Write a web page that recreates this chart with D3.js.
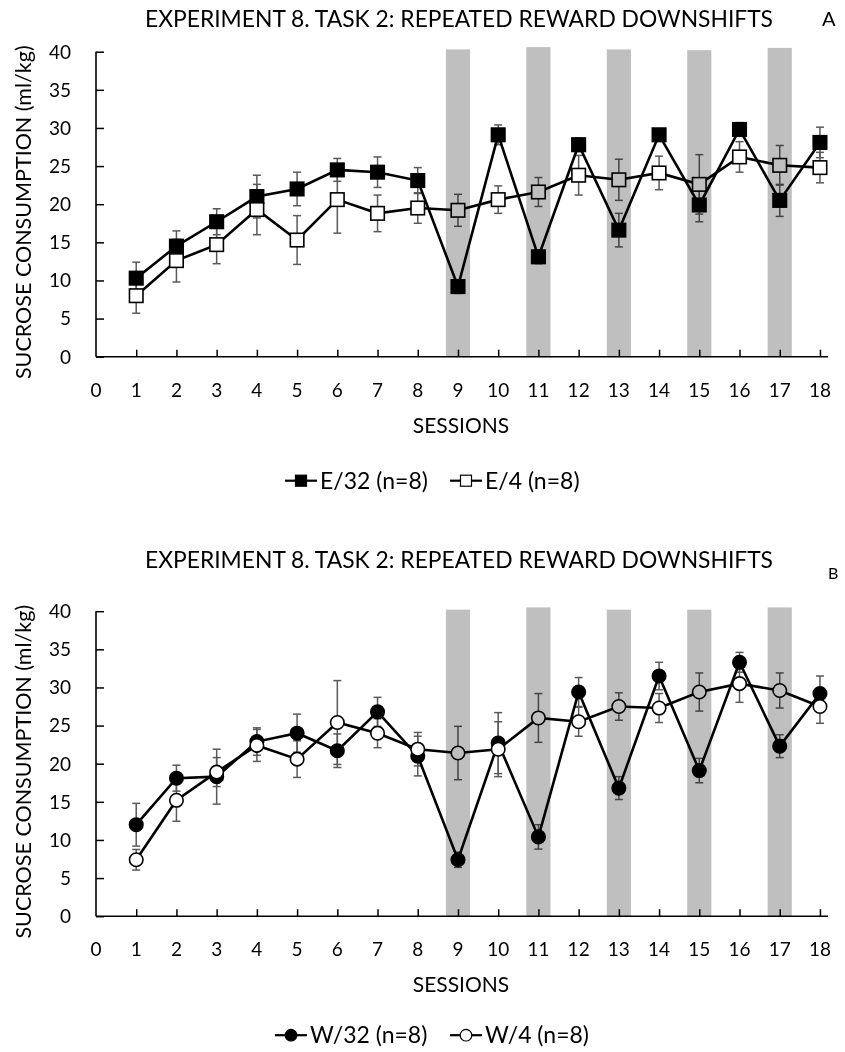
<!DOCTYPE html>
<html>
<head>
<meta charset="utf-8">
<script src="https://cdn.jsdelivr.net/npm/d3@7"></script>
<style>
  body { margin: 0; background: #fff; }
  svg { display: block; font-family: Lato, "Open Sans", sans-serif; }
</style>
</head>
<body>
<div id="chart"></div>
<script>
// sessions and tick labels
const sessions = [1, 2, 3, 4, 5, 6, 7, 8, 9, 10, 11, 12, 13, 14, 15, 16, 17, 18];
const xTicks = [0, 1, 2, 3, 4, 5, 6, 7, 8, 9, 10, 11, 12, 13, 14, 15, 16, 17, 18];
const yTicks = [0, 5, 10, 15, 20, 25, 30, 35, 40];

// shaded downshift sessions (grey columns)
const shiftSessions = [9, 11, 13, 15, 17];
const shiftHeightA = [40.3, 40.6, 40.3, 40.2, 40.5];
const shiftHeightB = [40.2, 40.5, 40.2, 40.2, 40.5];

// panel A: E/32 and E/4
const e32 = [10.3, 14.5, 17.7, 21.0, 22.0, 24.5, 24.2, 23.1, 9.2, 29.1, 13.1, 27.8, 16.6, 29.1, 19.9, 29.8, 20.5, 28.1];
const e32Err = [2.1, 2.0, 1.7, 2.8, 2.2, 1.5, 2.0, 1.7, 0.9, 1.3, 0.9, 0.9, 2.2, 0.5, 2.2, 0.9, 2.1, 2.0];
const e4 = [8.0, 12.6, 14.7, 19.3, 15.3, 20.6, 18.8, 19.5, 19.2, 20.6, 21.6, 23.8, 23.2, 24.1, 22.6, 26.2, 25.1, 24.8];
const e4Err = [2.3, 2.8, 2.5, 3.3, 3.2, 4.4, 2.4, 2.0, 2.1, 1.8, 1.9, 2.6, 2.7, 2.2, 3.9, 2.0, 2.6, 2.0];

// panel B: W/32 and W/4
const w32 = [12.0, 18.1, 18.3, 22.9, 24.0, 21.7, 26.8, 21.0, 7.4, 22.7, 10.4, 29.4, 16.8, 31.5, 19.1, 33.3, 22.3, 29.2];
const w32Err = [2.8, 1.7, 3.6, 1.8, 2.5, 2.2, 1.9, 2.6, 1.0, 4.0, 1.6, 1.9, 1.5, 1.8, 1.6, 1.3, 1.5, 2.3];
const w4 = [7.4, 15.2, 18.9, 22.4, 20.6, 25.4, 24.0, 21.9, 21.4, 21.9, 26.0, 25.5, 27.5, 27.3, 29.4, 30.5, 29.6, 27.5];
const w4Err = [1.35, 2.75, 1.9, 2.1, 2.4, 5.5, 1.9, 2.2, 3.5, 3.6, 3.2, 1.9, 1.8, 1.9, 2.5, 2.45, 2.3, 2.2];

const title = "EXPERIMENT 8. TASK 2: REPEATED REWARD DOWNSHIFTS";
const yLabel = "SUCROSE CONSUMPTION (ml/kg)";
const xLabel = "SESSIONS";

const width = 845;
const height = 1052;

const svg = d3.select("#chart").append("svg")
  .attr("width", width)
  .attr("height", height);

const x = d3.scaleLinear().domain([0, 18.2]).range([96, 828]);
const y = d3.scaleLinear().domain([0, 40]).range([305, 0]);

function drawPanel(top, opts) {
  const g = svg.append("g").attr("transform", `translate(0,${top})`);

  // title + panel letter
  svg.append("text")
    .attr("x", 145).attr("y", top + opts.titleDy)
    .attr("textLength", 628).attr("lengthAdjust", "spacingAndGlyphs")
    .style("font-size", "23px").text(title);
  svg.append("text")
    .attr("x", opts.letterX).attr("y", top + opts.letterDy)
    .style("font-size", opts.letterSize).text(opts.letter);

  // axes
  const yAxis = g.append("g")
    .attr("transform", `translate(${x(0)},0)`)
    .call(d3.axisRight(y).tickValues(yTicks).tickSize(8).tickFormat(""));
  const xAxis = g.append("g")
    .attr("transform", `translate(0,${y(0)})`)
    .call(d3.axisTop(x).tickValues(xTicks.slice(1)).tickSize(7).tickFormat(""));
  [yAxis, xAxis].forEach(a => {
    a.select(".domain").attr("stroke-width", 1.6);
    a.selectAll(".tick line").attr("stroke-width", 1.5);
  });
  // plain baselines, no end ticks
  xAxis.select(".domain").attr("d", `M${x(0)},0H${x.range()[1]}`);
  yAxis.select(".domain").attr("d", `M0,${y(40)}V${y(0)}`);

  g.selectAll(".ylab").data(yTicks).join("text")
    .attr("x", 71).attr("y", d => y(d)).attr("dy", "0.36em")
    .attr("text-anchor", "end").style("font-size", "19px")
    .text(d => d);
  g.selectAll(".xlab").data(xTicks).join("text")
    .attr("x", d => x(d)).attr("y", y(0) + 40)
    .attr("text-anchor", "middle").style("font-size", "19px")
    .text(d => d);

  g.append("text")
    .attr("x", 461).attr("y", y(0) + 76)
    .attr("text-anchor", "middle").style("font-size", "21px")
    .text(xLabel);
  g.append("text")
    .attr("transform", `translate(31,${y(20) + 8}) rotate(-90)`)
    .attr("text-anchor", "middle").style("font-size", "21.5px")
    .text(yLabel);

  const series = opts.series;
  const line = d3.line().x((d, i) => x(sessions[i])).y(d => y(d));

  series.forEach(s => {
    // error bars
    const eb = g.append("g").attr("stroke", "#595959").attr("stroke-width", 1.5);
    s.values.forEach((v, i) => {
      const cx = x(sessions[i]);
      const lo = y(v - s.err[i]), hi = y(v + s.err[i]);
      eb.append("line").attr("x1", cx).attr("x2", cx).attr("y1", lo).attr("y2", hi);
      eb.append("line").attr("x1", cx - 4).attr("x2", cx + 4).attr("y1", lo).attr("y2", lo);
      eb.append("line").attr("x1", cx - 4).attr("x2", cx + 4).attr("y1", hi).attr("y2", hi);
    });
  });
  series.forEach(s => {
    g.append("path").datum(s.values)
      .attr("d", line).attr("fill", "none")
      .attr("stroke", "#000").attr("stroke-width", 2.6);
    drawMarkers(g, s, 13.5);
  });

  // grey downshift columns, multiplied over the data
  g.selectAll(".shift").data(shiftSessions).join("rect")
    .attr("x", d => x(d - 0.3))
    .attr("width", d => x(d + 0.3) - x(d - 0.3))
    .attr("y", (d, i) => y(opts.shiftHeight[i]))
    .attr("height", (d, i) => y(0) - y(opts.shiftHeight[i]))
    .attr("fill", "#bfbfbf")
    .style("mix-blend-mode", "multiply");

  // legend
  const lg = svg.append("g").attr("transform", `translate(0,${top + opts.legendDy})`);
  series.forEach(s => {
    lg.append("line")
      .attr("x1", s.legendX).attr("x2", s.legendX + 32)
      .attr("stroke", "#000").attr("stroke-width", 2.2);
    const m = lg.append("g").attr("transform", `translate(${s.legendX + 16},0)`);
    if (s.shape === "square") {
      m.append("rect").attr("x", -5.5).attr("y", -5.5).attr("width", 11).attr("height", 11)
        .attr("fill", s.fill).attr("stroke", "#000").attr("stroke-width", 1.2);
    } else {
      m.append("circle").attr("r", 5.8)
        .attr("fill", s.fill).attr("stroke", "#000").attr("stroke-width", 1.2);
    }
    lg.append("text").attr("x", s.legendX + 35).attr("dy", "0.36em")
      .style("font-size", "23px").text(s.name);
  });
}

function drawMarkers(g, s, size) {
  if (s.shape === "square") {
    g.selectAll(null).data(s.values).join("rect")
      .attr("x", (d, i) => x(sessions[i]) - size / 2)
      .attr("y", d => y(d) - size / 2)
      .attr("width", size).attr("height", size)
      .attr("fill", s.fill).attr("stroke", "#000").attr("stroke-width", 1.6);
  } else {
    g.selectAll(null).data(s.values).join("circle")
      .attr("cx", (d, i) => x(sessions[i]))
      .attr("cy", d => y(d))
      .attr("r", size / 2)
      .attr("fill", s.fill).attr("stroke", "#000").attr("stroke-width", 1.6);
  }
}

drawPanel(51.7, {
  letter: "A", letterX: 822, letterDy: -25.5, letterSize: "20px",
  titleDy: -25, legendDy: 429, shiftHeight: shiftHeightA,
  series: [
    { name: "E/32 (n=8)", values: e32, err: e32Err, shape: "square", fill: "#000", legendX: 285 },
    { name: "E/4 (n=8)", values: e4, err: e4Err, shape: "square", fill: "#fff", legendX: 450 }
  ]
});

drawPanel(611.2, {
  letter: "B", letterX: 828, letterDy: -32, letterSize: "16px",
  titleDy: -43, legendDy: 424, shiftHeight: shiftHeightB,
  series: [
    { name: "W/32 (n=8)", values: w32, err: w32Err, shape: "circle", fill: "#000", legendX: 275 },
    { name: "W/4 (n=8)", values: w4, err: w4Err, shape: "circle", fill: "#fff", legendX: 450 }
  ]
});
</script>
</body>
</html>
